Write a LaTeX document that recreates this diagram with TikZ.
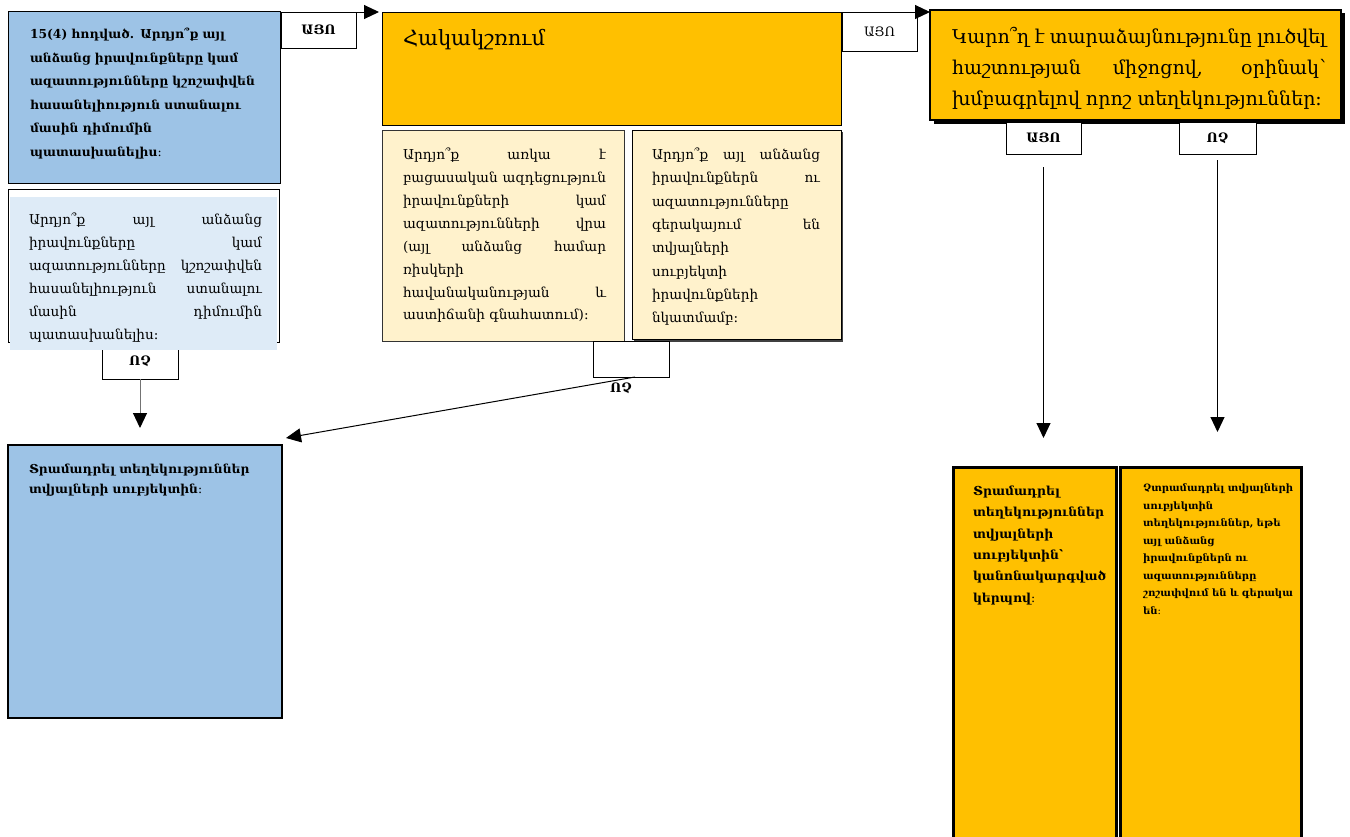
\documentclass[tikz,border=0pt]{standalone}
\usepackage{fontspec}
\setmainfont{DejaVu Serif}
\usetikzlibrary{arrows.meta}
\definecolor{cblue}{HTML}{9DC3E6}
\definecolor{clblue}{HTML}{DEEBF7}
\definecolor{corange}{HTML}{FFC000}
\definecolor{cyellow}{HTML}{FFF2CC}
\hyphenpenalty=10000 \exhyphenpenalty=10000 \hbadness=10000 \hfuzz=80pt \tolerance=10000
\tikzset{
  box/.style={draw=black, line width=1pt, inner sep=0pt, outer sep=0pt, anchor=north west},
  lbl/.style={box, fill=white, font=\fontsize{13}{15}\selectfont\bfseries},
  txt/.style={inner sep=0pt, outer sep=0pt, anchor=north west, align=justify},
  txtl/.style={inner sep=0pt, outer sep=0pt, anchor=north west, align=left},
  arr/.style={line width=1pt, -{Triangle[length=15pt,width=14pt,color=black]}},
}
\begin{document}
\begin{tikzpicture}[x=1pt,y=-1pt]
\useasboundingbox (0,0) rectangle (1350,836);
\clip (0,0) rectangle (1350,836);
% left column
\node[box, fill=white, minimum width=271, minimum height=153] (Bf) at (8,189) {};
\node[lbl, minimum width=76, minimum height=36] (n1) at (102,343) {\raisebox{-4pt}{ՈՉ}};
\fill[clblue] (10,197) rectangle (277,350);
\node[box, fill=cblue, minimum width=272, minimum height=172] (A) at (8,11) {};
\node[txtl, text width=245, font=\fontsize{12.3}{23.5}\selectfont\bfseries] (tA) at (30,28)
 {15(4) հոդված. Արդյո՞ք այլ\\ անձանց իրավունքները կամ\\ ազատությունները կշոշափվեն\\ հասանելիություն ստանալու\\ մասին դիմումին\\ պատասխանելիս։};
\node[txt, text width=233, font=\fontsize{13.6}{23}\selectfont] (tB) at (29,213)
 {Արդյո՞ք այլ անձանց\linebreak իրավունքները կամ\linebreak ազատությունները կշոշափվեն\linebreak հասանելիություն ստանալու\linebreak մասին դիմումին\linebreak պատասխանելիս։};
\node[box, fill=cblue, line width=1.5pt, minimum width=274, minimum height=273] (C) at (8,445) {};
\node[txtl, text width=245, font=\fontsize{12.3}{20}\selectfont\bfseries] (tC) at (29,464)
 {Տրամադրել տեղեկություններ\\ տվյալների սուբյեկտին։};
% middle column
\node[lbl, minimum width=75, minimum height=36] (y1) at (281,12) {ԱՅՈ};
\node[box, fill=corange, minimum width=459, minimum height=113] (D) at (382,12) {};
\node[txtl, font=\fontsize{21}{25}\selectfont] (tD) at (403,29) {Հակակշռում};
\node[box, fill=cyellow, draw=black!80, minimum width=242, minimum height=211] (E1) at (382,130) {};
\node[txt, text width=203, font=\fontsize{13.6}{22.9}\selectfont] (tE1) at (403,148)
 {Արդյո՞ք առկա է\linebreak բացասական ազդեցություն\linebreak իրավունքների կամ\linebreak ազատությունների վրա\linebreak (այլ անձանց համար\linebreak ռիսկերի\linebreak հավանականության և\linebreak աստիճանի գնահատում)։};
\fill[black!75] (634,132) rectangle (843,342);
\node[box, fill=cyellow, minimum width=209, minimum height=209] (E2) at (632,130) {};
\node[txt, text width=168, font=\fontsize{13.6}{23.3}\selectfont] (tE2) at (652,148)
 {Արդյո՞ք այլ անձանց\linebreak իրավունքներն ու\linebreak ազատությունները\linebreak գերակայում են\linebreak տվյալների\linebreak սուբյեկտի\linebreak իրավունքների\linebreak նկատմամբ։};
\node[lbl, minimum width=76, minimum height=36] (n2) at (593,341) {};
\node[font=\fontsize{13}{15}\selectfont\bfseries, inner sep=0pt] (tn2) at (621,388) {ՈՉ};
% right column
\node[lbl, font=\fontsize{13}{15}\selectfont, minimum width=75, minimum height=39] (y2) at (842,12) {ԱՅՈ};
\fill[black] (934,13) rectangle (1345,124);
\node[box, fill=corange, line width=2.5pt, minimum width=411, minimum height=110] (F) at (930,10) {};
\node[txt, text width=374, font=\fontsize{19}{31}\selectfont] (tF) at (952,27)
 {Կարո՞ղ է տարաձայնությունը լուծվել\linebreak հաշտության միջոցով, օրինակ՝\linebreak խմբագրելով որոշ տեղեկություններ։};
\node[lbl, minimum width=75, minimum height=32] (y3) at (1006,122) {ԱՅՈ};
\node[lbl, minimum width=77, minimum height=32] (n3) at (1179,122) {ՈՉ};
\node[box, fill=corange, line width=3pt, minimum width=163, minimum height=420] (G1) at (953,467) {};
\node[box, fill=corange, line width=3pt, minimum width=181, minimum height=420] (G2) at (1120,467) {};
\node[txtl, text width=140, font=\fontsize{12.4}{21.3}\selectfont\bfseries] (tG1) at (973,486)
 {Տրամադրել\\ տեղեկություններ\\ տվյալների\\ սուբյեկտին՝\\ կանոնակարգված\\ կերպով։};
\node[txtl, text width=170, font=\fontsize{10.1}{17.5}\selectfont\bfseries] (tG2) at (1143,484)
 {Չտրամադրել տվյալների\\ սուբյեկտին\\ տեղեկություններ, եթե\\ այլ անձանց\\ իրավունքներն ու\\ ազատությունները\\ շոշափվում են և գերակա\\ են։};
% connectors
\draw[arr, shorten >=3pt] (y1.north west) -- (y1.north west -| D.west);
\draw[arr] (y2.north west) -- (y2.north west -| F.west);
\draw[arr, draw=black!55, shorten >=17pt] (n1.south) -- (n1.south |- C.north);
\coordinate (cT) at (286,438);
\draw[arr] ([xshift=4pt]n2.south) -- (cT);
\draw[arr, shorten <=13pt, shorten >=29pt] (y3.south) -- (y3.south |- G1.north);
\draw[arr, shorten <=6pt, shorten >=35pt] (n3.south) -- (n3.south |- G2.north);
\end{tikzpicture}
\end{document}
